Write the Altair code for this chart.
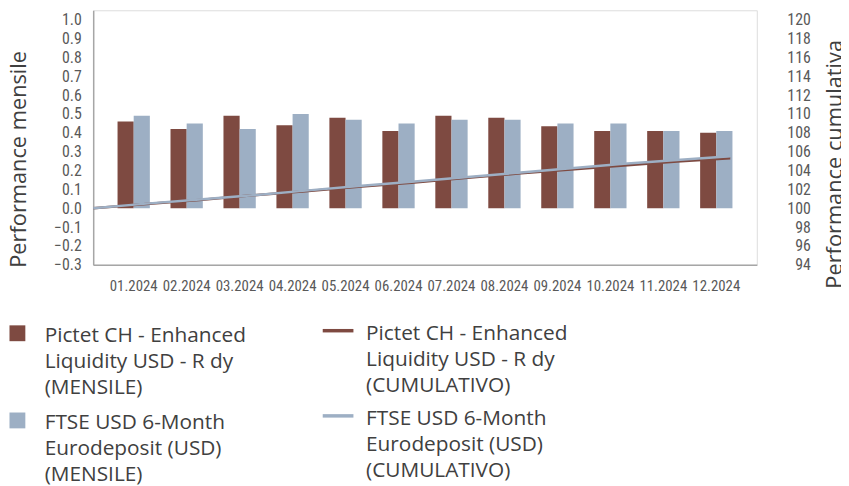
import altair as alt
import pandas as pd

months = ["01.2024", "02.2024", "03.2024", "04.2024", "05.2024", "06.2024",
          "07.2024", "08.2024", "09.2024", "10.2024", "11.2024", "12.2024"]
fund_monthly = [0.46, 0.42, 0.49, 0.44, 0.48, 0.41, 0.49, 0.48, 0.435, 0.41, 0.41, 0.40]
bench_monthly = [0.49, 0.45, 0.42, 0.50, 0.47, 0.45, 0.47, 0.47, 0.45, 0.45, 0.41, 0.41]

steps = [0, 1, 2, 3, 4, 5, 6, 7, 8, 9, 10, 11, 12]
fund_cum = [100.0, 100.46, 100.88, 101.37, 101.81, 102.29, 102.70, 103.20, 103.68, 104.12, 104.54, 104.96, 105.30]
bench_cum = [100.0, 100.49, 100.94, 101.37, 101.87, 102.35, 102.81, 103.29, 103.77, 104.24, 104.71, 105.13, 105.52]

FUND_M = "Pictet CH - Enhanced\nLiquidity USD - R dy\n(MENSILE)"
BENCH_M = "FTSE USD 6-Month\nEurodeposit (USD)\n(MENSILE)"
FUND_C = "Pictet CH - Enhanced\nLiquidity USD - R dy\n(CUMULATIVO)"
BENCH_C = "FTSE USD 6-Month\nEurodeposit (USD)\n(CUMULATIVO)"

left_ticks = [-0.3, -0.2, -0.1, 0.0, 0.1, 0.2, 0.3, 0.4, 0.5, 0.6, 0.7, 0.8, 0.9, 1.0]
right_ticks = [94, 96, 98, 100, 102, 104, 106, 108, 110, 112, 114, 116, 118, 120]

BROWN = "#7e4a41"
BLUE = "#9dafc4"
AXIS_FONT = "Liberation Sans Narrow, Roboto Condensed, DejaVu Sans Condensed, sans-serif"
TEXT_FONT = "Open Sans"
LABEL_COLOR = "#595959"
TEXT_COLOR = "#404040"

bars_df = pd.DataFrame({
    "month": months * 2,
    "serie": [FUND_M] * 12 + [BENCH_M] * 12,
    "value": fund_monthly + bench_monthly,
})
fund_line_df = pd.DataFrame({"step": steps, "serie": [FUND_C] * 13, "value": fund_cum})
bench_line_df = pd.DataFrame({"step": steps, "serie": [BENCH_C] * 13, "value": bench_cum})

split_expr = "split(datum.label, '\\n')"

bars = alt.Chart(bars_df).mark_bar().encode(
    x=alt.X("month:N", sort=months, title=None,
            scale=alt.Scale(paddingInner=0.39, paddingOuter=0.46),
            axis=alt.Axis(labelAngle=0, labelFont=AXIS_FONT, labelFontSize=15,
                          labelColor=LABEL_COLOR, labelPadding=14, ticks=False,
                          domainColor="#a6a6a6", domainWidth=1.5, labelOverlap=False)),
    xOffset=alt.XOffset("serie:N", sort=[FUND_M, BENCH_M],
                        scale=alt.Scale(paddingInner=0, paddingOuter=0)),
    y=alt.Y("value:Q", title="Performance mensile",
            scale=alt.Scale(domain=[-0.3, 1.05], nice=False, zero=False),
            axis=alt.Axis(values=left_ticks, format=".1f", grid=False, ticks=False,
                          labelFont=AXIS_FONT, labelFontSize=16, labelColor=LABEL_COLOR,
                          labelPadding=12, domainColor="#a6a6a6", domainWidth=1.5,
                          titleFont=TEXT_FONT, titleFontSize=22, titleFontWeight="normal",
                          titleColor=TEXT_COLOR, titleAngle=270, titleAlign="center",
                          titleBaseline="middle", titleX=-75, titleY=150)),
    fill=alt.Fill("serie:N", scale=alt.Scale(domain=[FUND_M, BENCH_M], range=[BROWN, BLUE]),
                  legend=alt.Legend(title=None, orient="none", legendX=-87, legendY=307,
                                    padding=0, symbolOffset=0,
                                    symbolType="M-1,0.075H1V2.075H-1Z", symbolSize=256,
                                    symbolStrokeWidth=0,
                                    labelFont=TEXT_FONT, labelFontSize=21, labelColor=TEXT_COLOR,
                                    labelOffset=17, labelLimit=400, labelExpr=split_expr,
                                    labelBaseline="top", rowPadding=3)),
)

line_enc = dict(
    x=alt.X("step:Q", scale=alt.Scale(domain=[0, 12.5], nice=False, zero=False), axis=None),
    y=alt.Y("value:Q", title="Performance cumulativa",
            scale=alt.Scale(domain=[94, 121], nice=False, zero=False),
            axis=alt.Axis(orient="right", values=right_ticks, grid=False, ticks=False,
                          tickSize=0, domain=False, labelAlign="right", labelPadding=54,
                          labelFont=AXIS_FONT, labelFontSize=16, labelColor=LABEL_COLOR,
                          titleFont=TEXT_FONT, titleFontSize=22, titleFontWeight="normal",
                          titleColor=TEXT_COLOR, titleAngle=270, titleAlign="center",
                          titleBaseline="middle", titleX=79, titleY=155)),
    stroke=alt.Stroke("serie:N", scale=alt.Scale(domain=[FUND_C, BENCH_C], range=[BROWN, BLUE]),
                      legend=alt.Legend(title=None, orient="none", legendX=236.75, legendY=305,
                                        padding=0, symbolOffset=0,
                                        symbolType="M-1.9375,1H1.9375", symbolSize=256,
                                        symbolStrokeWidth=3.5,
                                        labelFont=TEXT_FONT, labelFontSize=21, labelColor=TEXT_COLOR,
                                        labelOffset=17.75, labelLimit=400, labelExpr=split_expr,
                                        labelBaseline="top", rowPadding=1)),
)

fund_line = alt.Chart(fund_line_df).mark_line(strokeWidth=2.5).encode(**line_enc)
bench_line = alt.Chart(bench_line_df).mark_line(strokeWidth=2.5).encode(**line_enc)
lines = alt.layer(fund_line, bench_line)

chart = alt.layer(bars, lines).resolve_scale(
    x="independent", y="independent", fill="independent", stroke="independent"
).properties(
    width=670, height=257,
    padding={"left": 86, "top": 0, "right": 85, "bottom": 221},
    autosize=alt.AutoSizeParams(type="none"),
).configure_view(stroke=None).configure(
    background="white",
    style={"guide-label": {"lineHeight": 26.5}},
)

chart.save("out.html", embed_options={"renderer": "svg", "actions": False})
